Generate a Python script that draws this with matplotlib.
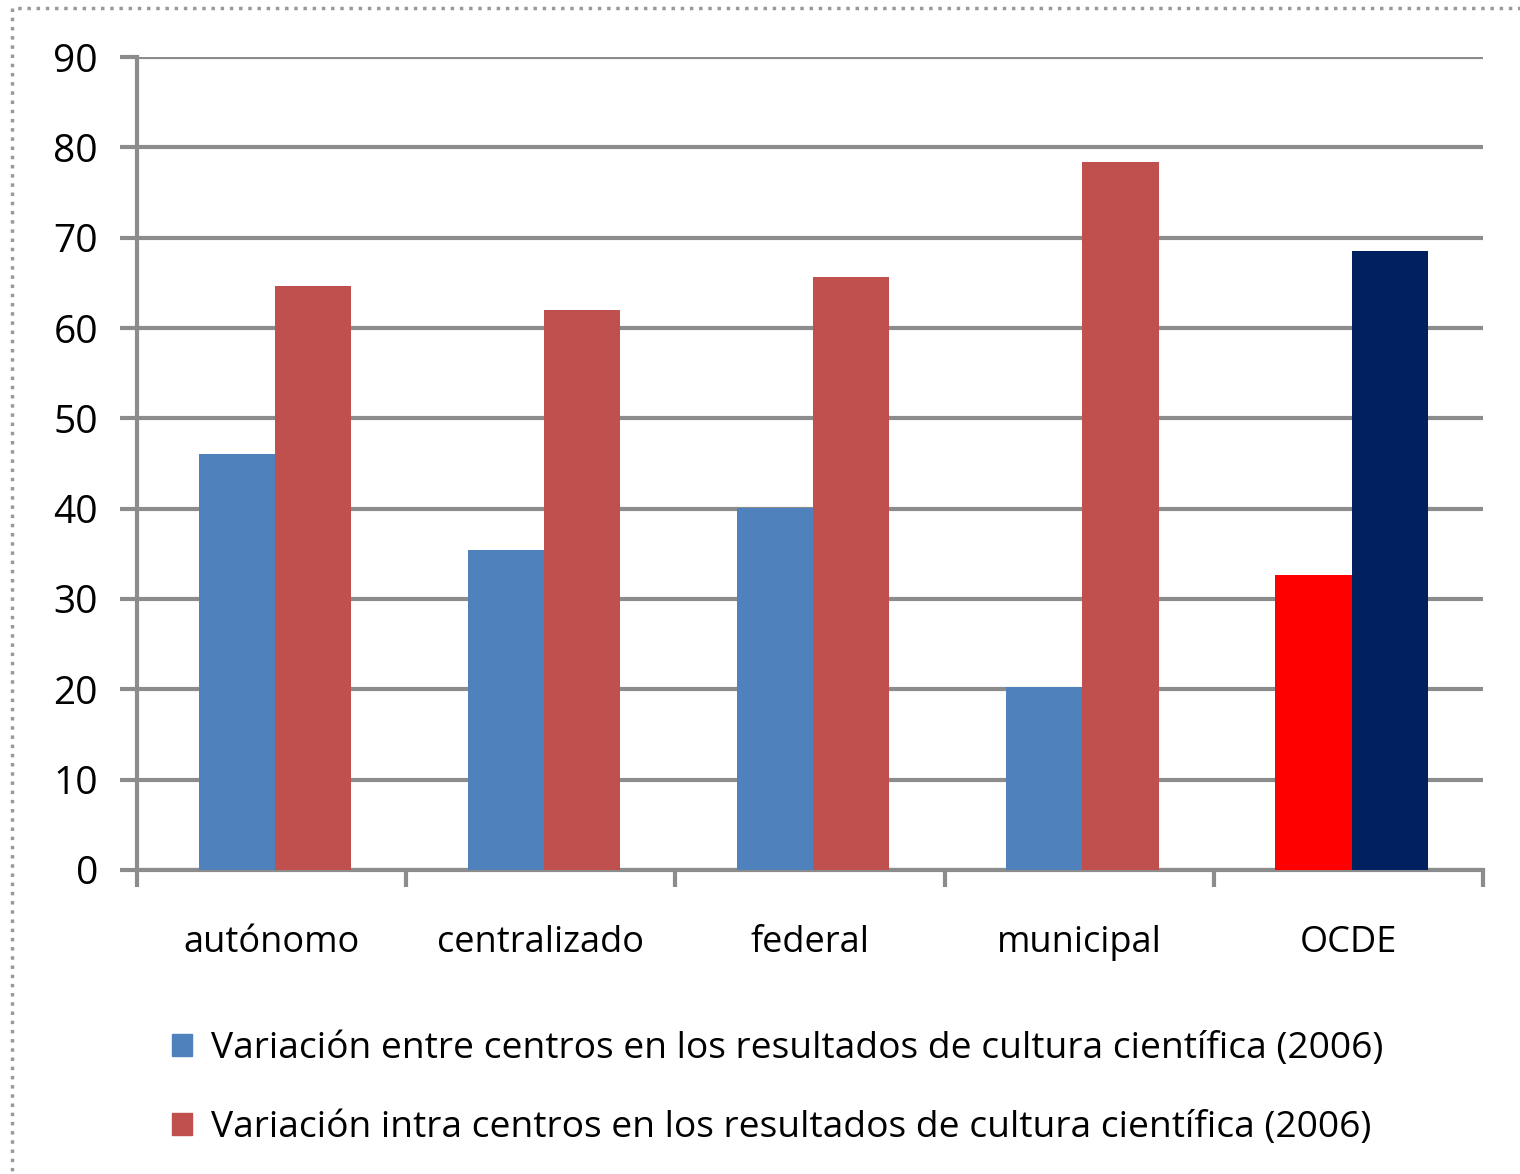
import numpy as np
import matplotlib.pyplot as plt
from matplotlib.patches import Rectangle

plt.rcParams['font.family'] = ['Open Sans', 'DejaVu Sans']

# datos
categorias = ['autónomo', 'centralizado', 'federal', 'municipal', 'OCDE']
entre = [46.0, 35.4, 40.1, 20.2, 32.6]
intra = [64.7, 62.0, 65.7, 78.4, 68.5]
serie_entre = 'Variación entre centros en los resultados de cultura científica (2006)'
serie_intra = 'Variación intra centros en los resultados de cultura científica (2006)'

col_entre = ['#4f81bd'] * 4 + ['#ff0000']
col_intra = ['#c0504d'] * 4 + ['#002060']

fig = plt.figure(figsize=(15.2, 11.74), dpi=100)
ax = fig.add_axes([0.0901, 0.259, 0.8856, 0.6924])

x = np.arange(len(categorias))
w = 0.283
ax.bar(x - w/2 + 0.012, entre, width=w, color=col_entre, zorder=3)
ax.bar(x + w/2 + 0.012, intra, width=w, color=col_intra, zorder=3)

ax.set_xlim(-0.5, len(categorias) - 0.5)
ax.set_ylim(0, 90)
ax.set_yticks(np.arange(0, 91, 10))
ax.yaxis.grid(True, color='#8c8c8c', linewidth=3, zorder=0)
ax.tick_params(axis='y', length=12, width=3, color='#8c8c8c', labelsize=28, pad=16)

ax.set_xticks(np.arange(-0.5, len(categorias)), labels=[])
ax.set_xticks(x, labels=categorias, minor=True)
ax.tick_params(axis='x', which='major', length=12, width=3, color='#8c8c8c')
ax.tick_params(axis='x', which='minor', length=0, labelsize=26, pad=40)

for s in ['top', 'right']:
    ax.spines[s].set_visible(False)
for s in ['left', 'bottom']:
    ax.spines[s].set_color('#8c8c8c')
    ax.spines[s].set_linewidth(3)

h1 = Rectangle((0, 0), 1, 1, color='#4f81bd')
h2 = Rectangle((0, 0), 1, 1, color='#c0504d')
fig.legend([h1, h2], [serie_entre, serie_intra], loc='upper left',
           bbox_to_anchor=(0.091, 0.150), frameon=False, fontsize=26.7,
           handlelength=0.55, handleheight=0.55, handletextpad=0.5, labelspacing=1.15)

fig.patches.append(Rectangle((0.008, -0.5), 1.5, 1.493, transform=fig.transFigure,
                             fill=False, edgecolor='#999999', linestyle=':', linewidth=2.5))

fig.savefig('out.png', dpi=100)
